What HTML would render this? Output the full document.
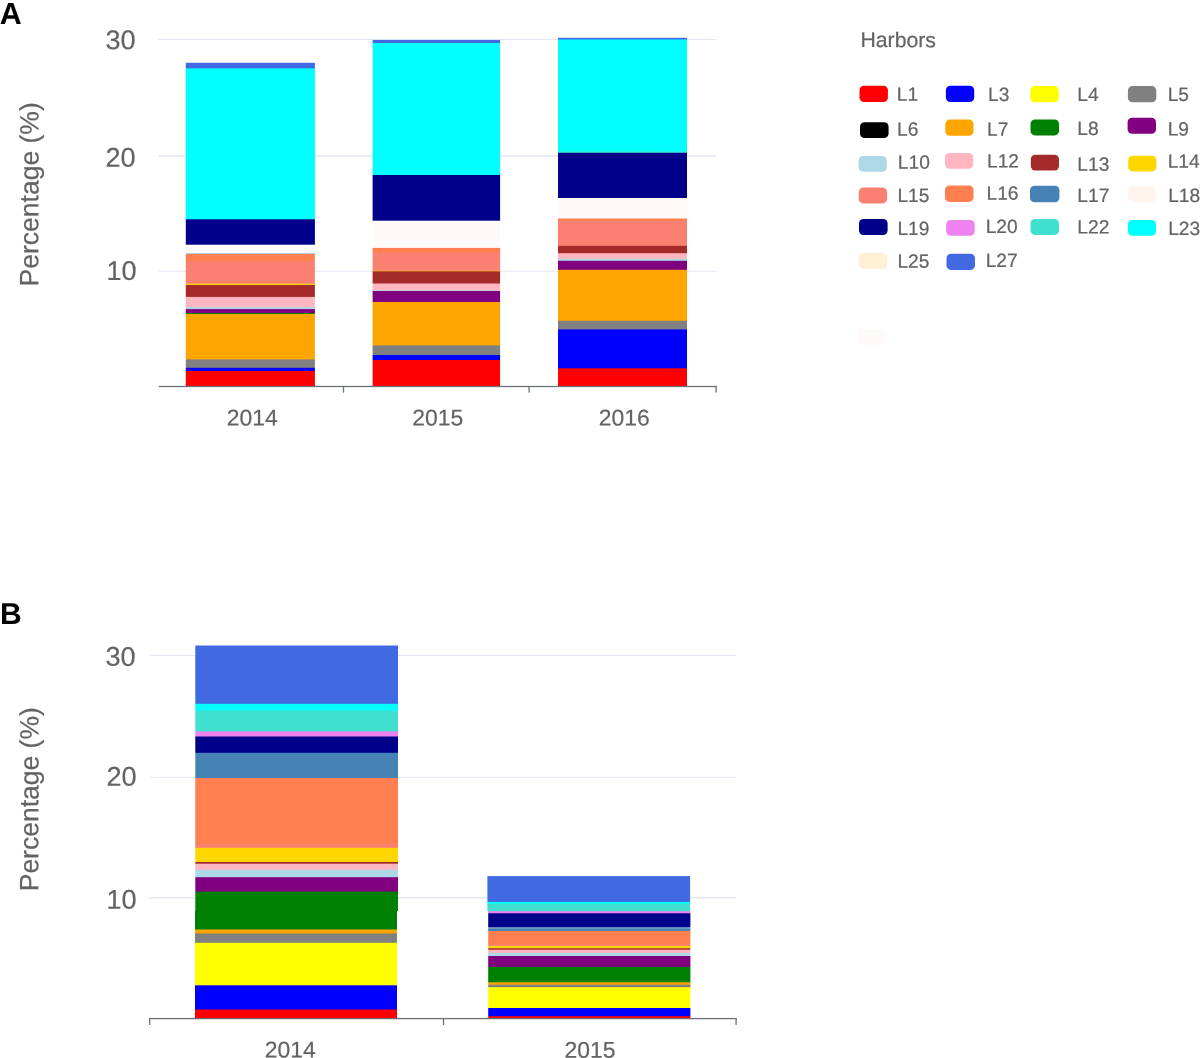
<!DOCTYPE html>
<html><head><meta charset="utf-8"><title>Harbors</title>
<style>
html,body{margin:0;padding:0;background:#fff;}
body{width:1200px;height:1058px;overflow:hidden;}
svg{display:block;font-family:"Liberation Sans",sans-serif;text-rendering:geometricPrecision;}
text{stroke-width:0.2px;}
.n{stroke:#636363;}
</style></head><body>
<svg width="1200" height="1058" viewBox="0 0 1200 1058" shape-rendering="auto">
<rect x="158.80" y="39.00" width="557.20" height="1.00" fill="#E2E6F3"/>
<rect x="158.80" y="155.25" width="557.20" height="1.50" fill="#E2E6F3"/>
<rect x="158.80" y="270.70" width="557.20" height="1.00" fill="#E2E6F3"/>
<rect x="185.80" y="62" width="129.10" height="1" fill="#D9E1F9"/>
<rect x="185.80" y="63" width="129.10" height="5" fill="#4169E1"/>
<rect x="185.80" y="68" width="129.10" height="1" fill="#13D2F6"/>
<rect x="185.80" y="69" width="129.10" height="150" fill="#00FFFF"/>
<rect x="185.80" y="219" width="129.10" height="1" fill="#004DAE"/>
<rect x="185.80" y="220" width="129.10" height="24" fill="#00008B"/>
<rect x="185.80" y="244" width="129.10" height="1" fill="#4D4BAC"/>
<rect x="185.80" y="245" width="129.10" height="8" fill="#FFFAFA"/>
<rect x="185.80" y="253" width="129.10" height="1" fill="#B5CADE"/>
<rect x="185.80" y="254" width="129.10" height="7" fill="#FF7F50"/>
<rect x="185.80" y="261" width="129.10" height="22" fill="#FA8072"/>
<rect x="185.80" y="283" width="129.10" height="1" fill="#FC9A50"/>
<rect x="185.80" y="284" width="129.10" height="1" fill="#FFD700"/>
<rect x="185.80" y="285" width="129.10" height="11" fill="#A52A2A"/>
<rect x="185.80" y="296" width="129.10" height="1" fill="#AE3839"/>
<rect x="185.80" y="297" width="129.10" height="10" fill="#FFB6C1"/>
<rect x="185.80" y="307" width="129.10" height="1" fill="#B5D5E2"/>
<rect x="185.80" y="308" width="129.10" height="1" fill="#ADD8E6"/>
<rect x="185.80" y="309" width="129.10" height="1" fill="#85168A"/>
<rect x="185.80" y="310" width="129.10" height="3" fill="#800080"/>
<rect x="185.80" y="313" width="129.10" height="1" fill="#008000"/>
<rect x="185.80" y="314" width="129.10" height="45" fill="#FFA500"/>
<rect x="185.80" y="359" width="129.10" height="1" fill="#B38F4D"/>
<rect x="185.80" y="360" width="129.10" height="7" fill="#808080"/>
<rect x="185.80" y="367" width="129.10" height="1" fill="#666699"/>
<rect x="185.80" y="368" width="129.10" height="3" fill="#0000FF"/>
<rect x="185.80" y="371" width="129.10" height="15" fill="#FF0000"/>
<rect x="372.60" y="39" width="127.50" height="1" fill="#D9E1F9"/>
<rect x="372.60" y="40" width="127.50" height="3" fill="#4169E1"/>
<rect x="372.60" y="43" width="127.50" height="132" fill="#00FFFF"/>
<rect x="372.60" y="175" width="127.50" height="45" fill="#00008B"/>
<rect x="372.60" y="220" width="127.50" height="1" fill="#4D4BAC"/>
<rect x="372.60" y="221" width="127.50" height="26" fill="#FFFAFA"/>
<rect x="372.60" y="247" width="127.50" height="1" fill="#FFEEE9"/>
<rect x="372.60" y="248" width="127.50" height="4" fill="#FF7F50"/>
<rect x="372.60" y="252" width="127.50" height="1" fill="#FC8061"/>
<rect x="372.60" y="253" width="127.50" height="17" fill="#FA8072"/>
<rect x="372.60" y="270" width="127.50" height="1" fill="#FB915B"/>
<rect x="372.60" y="271" width="127.50" height="1" fill="#C05E1D"/>
<rect x="372.60" y="272" width="127.50" height="11" fill="#A52A2A"/>
<rect x="372.60" y="283" width="127.50" height="1" fill="#D27076"/>
<rect x="372.60" y="284" width="127.50" height="6" fill="#FFB6C1"/>
<rect x="372.60" y="290" width="127.50" height="1" fill="#CECAD7"/>
<rect x="372.60" y="291" width="127.50" height="11" fill="#800080"/>
<rect x="372.60" y="302" width="127.50" height="43" fill="#FFA500"/>
<rect x="372.60" y="345" width="127.50" height="1" fill="#B38F4D"/>
<rect x="372.60" y="346" width="127.50" height="9" fill="#808080"/>
<rect x="372.60" y="355" width="127.50" height="5" fill="#0000FF"/>
<rect x="372.60" y="360" width="127.50" height="26" fill="#FF0000"/>
<rect x="558.00" y="37" width="129.00" height="1" fill="#D9E1F9"/>
<rect x="558.00" y="38" width="129.00" height="1" fill="#4169E1"/>
<rect x="558.00" y="39" width="129.00" height="1" fill="#20B4F0"/>
<rect x="558.00" y="40" width="129.00" height="111" fill="#00FFFF"/>
<rect x="558.00" y="151" width="129.00" height="1" fill="#2DE9DE"/>
<rect x="558.00" y="152" width="129.00" height="1" fill="#33B3C2"/>
<rect x="558.00" y="153" width="129.00" height="45" fill="#00008B"/>
<rect x="558.00" y="198" width="129.00" height="20" fill="#FFFAFA"/>
<rect x="558.00" y="218" width="129.00" height="1" fill="#FFBCA5"/>
<rect x="558.00" y="219" width="129.00" height="2" fill="#FF7F50"/>
<rect x="558.00" y="221" width="129.00" height="24" fill="#FA8072"/>
<rect x="558.00" y="245" width="129.00" height="1" fill="#E96F64"/>
<rect x="558.00" y="246" width="129.00" height="7" fill="#A52A2A"/>
<rect x="558.00" y="253" width="129.00" height="1" fill="#ED9AA3"/>
<rect x="558.00" y="254" width="129.00" height="4" fill="#FFB6C1"/>
<rect x="558.00" y="258" width="129.00" height="1" fill="#EFBDC8"/>
<rect x="558.00" y="259" width="129.00" height="1" fill="#ADD8E6"/>
<rect x="558.00" y="260" width="129.00" height="1" fill="#A4ADD2"/>
<rect x="558.00" y="261" width="129.00" height="8" fill="#800080"/>
<rect x="558.00" y="269" width="129.00" height="1" fill="#992166"/>
<rect x="558.00" y="270" width="129.00" height="50" fill="#FFA500"/>
<rect x="558.00" y="320" width="129.00" height="1" fill="#E69E1A"/>
<rect x="558.00" y="321" width="129.00" height="8" fill="#808080"/>
<rect x="558.00" y="329" width="129.00" height="1" fill="#3333CC"/>
<rect x="558.00" y="330" width="129.00" height="38" fill="#0000FF"/>
<rect x="558.00" y="368" width="129.00" height="1" fill="#B2004D"/>
<rect x="558.00" y="369" width="129.00" height="17" fill="#FF0000"/>
<rect x="158.75" y="385.85" width="557.95" height="1.30" fill="#6E7079"/>
<rect x="342.85" y="385.90" width="1.30" height="6.70" fill="#6E7079"/>
<rect x="528.45" y="385.90" width="1.30" height="6.70" fill="#6E7079"/>
<rect x="715.40" y="385.90" width="1.30" height="6.70" fill="#6E7079"/>
<text transform="translate(-0.3,24.0) rotate(0.05)" font-size="30.4" text-anchor="start" font-weight="bold" fill="#000">A</text>
<text class="n" transform="translate(135.6,49.3) rotate(0.05)" font-size="27.1" text-anchor="end" font-weight="normal" fill="#636363">30</text>
<text class="n" transform="translate(135.6,166.75) rotate(0.05)" font-size="27.1" text-anchor="end" font-weight="normal" fill="#636363">20</text>
<text class="n" transform="translate(136.6,280.0) rotate(0.05)" font-size="27.1" text-anchor="end" font-weight="normal" fill="#636363">10</text>
<text class="n" transform="translate(38.3,286.4) rotate(-89.95)" font-size="26.5" fill="#636363">Percentage (%)</text>
<text class="n" transform="translate(252.3,425.4) rotate(0.05)" font-size="22.9" text-anchor="middle" font-weight="normal" fill="#636363">2014</text>
<text class="n" transform="translate(437.75,425.4) rotate(0.05)" font-size="22.9" text-anchor="middle" font-weight="normal" fill="#636363">2015</text>
<text class="n" transform="translate(624.3,425.4) rotate(0.05)" font-size="22.9" text-anchor="middle" font-weight="normal" fill="#636363">2016</text>
<text class="n" transform="translate(860.5,47.1) rotate(0.05)" font-size="21.2" text-anchor="start" font-weight="normal" fill="#636363">Harbors</text>
<rect x="859.5" y="85.7" width="28.4" height="16.3" rx="4.5" fill="#FF0000"/>
<text class="n" transform="translate(896.8,100.7) rotate(0.05)" font-size="19.2" text-anchor="start" font-weight="normal" fill="#636363">L1</text>
<rect x="945.9" y="85.8" width="28.3" height="16.2" rx="4.5" fill="#0000FF"/>
<text class="n" transform="translate(988.0,101.1) rotate(0.05)" font-size="19.2" text-anchor="start" font-weight="normal" fill="#636363">L3</text>
<rect x="1030.2" y="86.1" width="28.6" height="16.1" rx="4.5" fill="#FFFF00"/>
<text class="n" transform="translate(1077.3,101.1) rotate(0.05)" font-size="19.2" text-anchor="start" font-weight="normal" fill="#636363">L4</text>
<rect x="1127.9" y="86.1" width="28.4" height="16.1" rx="4.5" fill="#808080"/>
<text class="n" transform="translate(1167.7,101.1) rotate(0.05)" font-size="19.2" text-anchor="start" font-weight="normal" fill="#636363">L5</text>
<rect x="860.0" y="122.2" width="28.6" height="15.8" rx="4.5" fill="#000000"/>
<text class="n" transform="translate(897.0,135.7) rotate(0.05)" font-size="19.2" text-anchor="start" font-weight="normal" fill="#636363">L6</text>
<rect x="945.3" y="119.6" width="28.2" height="16.1" rx="4.5" fill="#FFA500"/>
<text class="n" transform="translate(987.0,135.7) rotate(0.05)" font-size="19.2" text-anchor="start" font-weight="normal" fill="#636363">L7</text>
<rect x="1030.5" y="119.5" width="28.5" height="15.9" rx="4.5" fill="#008000"/>
<text class="n" transform="translate(1077.3,135.0) rotate(0.05)" font-size="19.2" text-anchor="start" font-weight="normal" fill="#636363">L8</text>
<rect x="1127.6" y="117.7" width="28.4" height="16.0" rx="4.5" fill="#800080"/>
<text class="n" transform="translate(1167.7,135.4) rotate(0.05)" font-size="19.2" text-anchor="start" font-weight="normal" fill="#636363">L9</text>
<rect x="858.6" y="156.0" width="28.2" height="15.7" rx="4.5" fill="#ADD8E6"/>
<text class="n" transform="translate(897.8,168.7) rotate(0.05)" font-size="19.2" text-anchor="start" font-weight="normal" fill="#636363">L10</text>
<rect x="945.0" y="153.0" width="28.2" height="15.7" rx="4.5" fill="#FFB6C1"/>
<text class="n" transform="translate(987.0,167.6) rotate(0.05)" font-size="19.2" text-anchor="start" font-weight="normal" fill="#636363">L12</text>
<rect x="1030.8" y="154.8" width="28.2" height="15.7" rx="4.5" fill="#A52A2A"/>
<text class="n" transform="translate(1077.3,170.7) rotate(0.05)" font-size="19.2" text-anchor="start" font-weight="normal" fill="#636363">L13</text>
<rect x="1128.2" y="155.7" width="28.2" height="15.7" rx="4.5" fill="#FFD700"/>
<text class="n" transform="translate(1167.7,167.7) rotate(0.05)" font-size="19.2" text-anchor="start" font-weight="normal" fill="#636363">L14</text>
<rect x="858.7" y="187.6" width="28.4" height="15.8" rx="4.5" fill="#FA8072"/>
<text class="n" transform="translate(897.4,201.9) rotate(0.05)" font-size="19.2" text-anchor="start" font-weight="normal" fill="#636363">L15</text>
<rect x="945.0" y="185.5" width="28.5" height="16.4" rx="4.5" fill="#FF7F50"/>
<text class="n" transform="translate(986.5,199.7) rotate(0.05)" font-size="19.2" text-anchor="start" font-weight="normal" fill="#636363">L16</text>
<rect x="1030.0" y="185.8" width="29.4" height="16.4" rx="4.5" fill="#4682B4"/>
<text class="n" transform="translate(1077.3,201.9) rotate(0.05)" font-size="19.2" text-anchor="start" font-weight="normal" fill="#636363">L17</text>
<rect x="1127.9" y="186.0" width="28.1" height="15.9" rx="4.5" fill="#FFF5EE"/>
<text class="n" transform="translate(1168.2,201.9) rotate(0.05)" font-size="19.2" text-anchor="start" font-weight="normal" fill="#636363">L18</text>
<rect x="859.0" y="219.0" width="28.6" height="16.0" rx="4.5" fill="#00008B"/>
<text class="n" transform="translate(897.4,234.9) rotate(0.05)" font-size="19.2" text-anchor="start" font-weight="normal" fill="#636363">L19</text>
<rect x="946.2" y="219.9" width="28.5" height="15.8" rx="4.5" fill="#EE82EE"/>
<text class="n" transform="translate(985.7,233.1) rotate(0.05)" font-size="19.2" text-anchor="start" font-weight="normal" fill="#636363">L20</text>
<rect x="1030.5" y="219.0" width="28.5" height="15.9" rx="4.5" fill="#40E0D0"/>
<text class="n" transform="translate(1077.3,233.4) rotate(0.05)" font-size="19.2" text-anchor="start" font-weight="normal" fill="#636363">L22</text>
<rect x="1127.9" y="220.0" width="28.1" height="15.7" rx="4.5" fill="#00FFFF"/>
<text class="n" transform="translate(1168.2,234.9) rotate(0.05)" font-size="19.2" text-anchor="start" font-weight="normal" fill="#636363">L23</text>
<rect x="859.0" y="252.9" width="28.3" height="15.8" rx="4.5" fill="#FFEFD5"/>
<text class="n" transform="translate(897.4,267.7) rotate(0.05)" font-size="19.2" text-anchor="start" font-weight="normal" fill="#636363">L25</text>
<rect x="946.5" y="253.8" width="28.5" height="16.1" rx="4.5" fill="#4169E1"/>
<text class="n" transform="translate(985.7,266.9) rotate(0.05)" font-size="19.2" text-anchor="start" font-weight="normal" fill="#636363">L27</text>
<rect x="857.5" y="329.3" width="28.0" height="15.5" rx="4.5" fill="#FFFAFA"/>
<rect x="149.80" y="655.00" width="586.40" height="1.00" fill="#E2E6F3"/>
<rect x="149.80" y="776.70" width="586.40" height="1.00" fill="#E2E6F3"/>
<rect x="149.80" y="896.95" width="586.40" height="1.50" fill="#E2E6F3"/>
<rect x="195.30" y="645" width="202.70" height="1" fill="#A0B4F0"/>
<rect x="195.30" y="646" width="202.70" height="57" fill="#4169E1"/>
<rect x="195.30" y="703" width="202.70" height="1" fill="#3487E7"/>
<rect x="195.30" y="704" width="202.70" height="6" fill="#00FFFF"/>
<rect x="195.30" y="710" width="202.70" height="1" fill="#20F0E8"/>
<rect x="195.30" y="711" width="202.70" height="20" fill="#40E0D0"/>
<rect x="195.30" y="731" width="202.70" height="1" fill="#A8A8E2"/>
<rect x="195.30" y="732" width="202.70" height="4" fill="#EE82EE"/>
<rect x="195.30" y="736" width="202.70" height="1" fill="#7741BC"/>
<rect x="195.30" y="737" width="202.70" height="15" fill="#00008B"/>
<rect x="195.30" y="752" width="202.70" height="1" fill="#0E1A93"/>
<rect x="195.30" y="753" width="202.70" height="25" fill="#4682B4"/>
<rect x="195.30" y="778" width="202.70" height="66" fill="#FF7F50"/>
<rect x="195.30" y="844" width="202.70" height="3" fill="#FA8072"/>
<rect x="195.30" y="847" width="202.70" height="1" fill="#FB915B"/>
<rect x="195.30" y="848" width="202.70" height="14" fill="#FFD700"/>
<rect x="195.30" y="862" width="202.70" height="1" fill="#A52A2A"/>
<rect x="195.30" y="863" width="202.70" height="1" fill="#C05457"/>
<rect x="195.30" y="864" width="202.70" height="5" fill="#FFB6C1"/>
<rect x="195.30" y="869" width="202.70" height="1" fill="#EFBDC8"/>
<rect x="195.30" y="870" width="202.70" height="7" fill="#ADD8E6"/>
<rect x="195.30" y="877" width="202.70" height="1" fill="#892B94"/>
<rect x="195.30" y="878" width="202.70" height="13" fill="#800080"/>
<rect x="195.30" y="891" width="202.70" height="1" fill="#4D334D"/>
<rect x="195.30" y="892" width="202.70" height="19" fill="#008000"/>
<rect x="195.00" y="911" width="202.00" height="18" fill="#008000"/>
<rect x="195.00" y="929" width="202.00" height="1" fill="#809200"/>
<rect x="195.00" y="930" width="202.00" height="3" fill="#FFA500"/>
<rect x="195.00" y="933" width="202.00" height="1" fill="#C09240"/>
<rect x="195.00" y="934" width="202.00" height="8" fill="#808080"/>
<rect x="195.00" y="942" width="202.00" height="1" fill="#999966"/>
<rect x="195.00" y="943" width="202.00" height="42" fill="#FFFF00"/>
<rect x="195.00" y="985" width="202.00" height="1" fill="#4C4CB3"/>
<rect x="195.00" y="986" width="202.00" height="23" fill="#0000FF"/>
<rect x="195.00" y="1009" width="202.00" height="1" fill="#800080"/>
<rect x="195.00" y="1010" width="202.00" height="8" fill="#FF0000"/>
<rect x="487.40" y="876" width="202.70" height="1" fill="#5478E4"/>
<rect x="487.40" y="877" width="202.70" height="24" fill="#4169E1"/>
<rect x="487.40" y="901" width="202.70" height="1" fill="#3A78E4"/>
<rect x="487.40" y="902" width="202.70" height="1" fill="#00FFFF"/>
<rect x="487.40" y="903" width="202.70" height="1" fill="#0DF9F6"/>
<rect x="487.40" y="904" width="202.70" height="7" fill="#40E0D0"/>
<rect x="488.20" y="911" width="202.20" height="1" fill="#CB95E8"/>
<rect x="488.20" y="912" width="202.20" height="1" fill="#EE82EE"/>
<rect x="488.20" y="913" width="202.20" height="1" fill="#4727A9"/>
<rect x="488.20" y="914" width="202.20" height="13" fill="#00008B"/>
<rect x="488.20" y="927" width="202.20" height="1" fill="#6882C2"/>
<rect x="488.20" y="928" width="202.20" height="1" fill="#659CC3"/>
<rect x="488.20" y="929" width="202.20" height="2" fill="#4682B4"/>
<rect x="488.20" y="931" width="202.20" height="13" fill="#FF7F50"/>
<rect x="488.20" y="944" width="202.20" height="1" fill="#FB8068"/>
<rect x="488.20" y="945" width="202.20" height="1" fill="#FB8967"/>
<rect x="488.20" y="946" width="202.20" height="2" fill="#FFD700"/>
<rect x="488.20" y="948" width="202.20" height="1" fill="#B74D22"/>
<rect x="488.20" y="949" width="202.20" height="1" fill="#C05457"/>
<rect x="488.20" y="950" width="202.20" height="3" fill="#FFB6C1"/>
<rect x="488.20" y="953" width="202.20" height="3" fill="#ADD8E6"/>
<rect x="488.20" y="956" width="202.20" height="10" fill="#800080"/>
<rect x="488.20" y="966" width="202.20" height="1" fill="#730D73"/>
<rect x="488.20" y="967" width="202.20" height="15" fill="#008000"/>
<rect x="488.20" y="982" width="202.20" height="1" fill="#B39A00"/>
<rect x="488.20" y="983" width="202.20" height="1" fill="#FFA500"/>
<rect x="488.20" y="984" width="202.20" height="1" fill="#D99A26"/>
<rect x="488.20" y="985" width="202.20" height="2" fill="#808080"/>
<rect x="488.20" y="987" width="202.20" height="1" fill="#E6E61A"/>
<rect x="488.20" y="988" width="202.20" height="20" fill="#FFFF00"/>
<rect x="488.20" y="1008" width="202.20" height="8" fill="#0000FF"/>
<rect x="488.20" y="1016" width="202.20" height="1" fill="#CC0033"/>
<rect x="488.20" y="1017" width="202.20" height="1" fill="#FF0000"/>
<rect x="149.05" y="1017.95" width="587.70" height="1.30" fill="#6E7079"/>
<rect x="149.05" y="1018.00" width="1.30" height="7.00" fill="#6E7079"/>
<rect x="442.85" y="1018.00" width="1.30" height="7.00" fill="#6E7079"/>
<rect x="735.45" y="1018.00" width="1.30" height="7.00" fill="#6E7079"/>
<text transform="translate(0,624.0) rotate(0.05)" font-size="30.0" text-anchor="start" font-weight="bold" fill="#000">B</text>
<text class="n" transform="translate(135.6,665.9) rotate(0.05)" font-size="27.1" text-anchor="end" font-weight="normal" fill="#636363">30</text>
<text class="n" transform="translate(136.6,785.7) rotate(0.05)" font-size="27.1" text-anchor="end" font-weight="normal" fill="#636363">20</text>
<text class="n" transform="translate(136.6,908.75) rotate(0.05)" font-size="27.1" text-anchor="end" font-weight="normal" fill="#636363">10</text>
<text class="n" transform="translate(38.3,891.3) rotate(-89.95)" font-size="26.5" fill="#636363">Percentage (%)</text>
<text class="n" transform="translate(290.25,1057.4) rotate(0.05)" font-size="22.9" text-anchor="middle" font-weight="normal" fill="#636363">2014</text>
<text class="n" transform="translate(590,1057.8) rotate(0.05)" font-size="22.9" text-anchor="middle" font-weight="normal" fill="#636363">2015</text>
</svg>
</body></html>
